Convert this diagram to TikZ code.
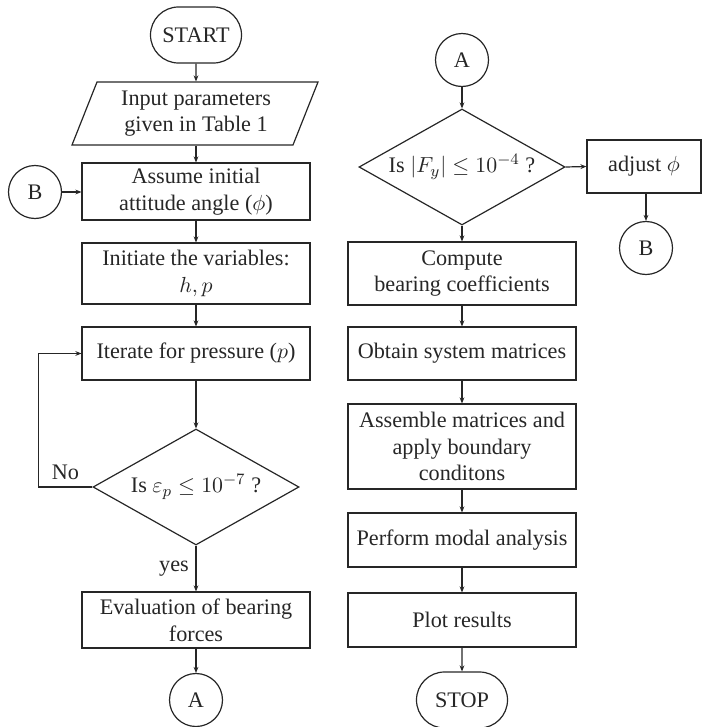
\documentclass[tikz,border=0pt]{standalone}
\usepackage{fontspec}
\setmainfont{Liberation Serif}
\usetikzlibrary{shapes.geometric,shapes.misc,arrows.meta}
\newcommand\fsz{\fontsize{11.1bp}{13.3bp}\selectfont}
\begin{document}
\begin{tikzpicture}[x=0.5bp,y=-0.5bp,
  line width=0.6bp, color=black!85,
  every node/.style={font=\fsz},
  box/.style={draw, rectangle, minimum width=114bp, inner sep=1bp, align=center},
  conn/.style={draw, circle, minimum size=26.5bp, inner sep=0pt},
  term/.style={draw, rounded rectangle, minimum width=45.5bp, minimum height=28bp, inner sep=0pt},
  dec/.style={draw, diamond, aspect=1.77, minimum width=103bp, minimum height=58bp, inner sep=0pt},
  arr/.style={-{Stealth[length=3bp,width=2.4bp]}}]
\useasboundingbox (0,0) rectangle (702,727);
% left column
\node[term] (start) at (196,35) {START};
\node[inner sep=0pt, minimum width=110bp, minimum height=31.5bp, align=center] (inp) at (196,113.5) {Input parameters\\given in Table 1};
\draw (97,82) -- (318,82) -- (293,145) -- (72,145) -- cycle;
\node[box, minimum height=28.5bp] (assume) at (196,191.5) {Assume initial\\attitude angle ($\phi$)};
\node[conn] (b1) at (35,192) {B};
\node[box, minimum height=30.5bp] (init) at (196,273.5) {Initiate the variables:\\$h,p$};
\node[box, minimum height=26.5bp] (iter) at (196,353.5) {Iterate for pressure ($p$)};
\node[dec] (d1) at (196,487) {Is $\varepsilon_p\le 10^{-7}$ ?};
\node[box, minimum height=28bp] (eval) at (196,620) {Evaluation of bearing\\forces};
\node[conn] (a1) at (196,700) {A};
% right column
\node[conn] (a2) at (462,60) {A};
\node[dec] (d2) at (462,167) {Is $|F_y|\le 10^{-4}$ ?};
\node[box, minimum width=57bp, minimum height=26.5bp] (adj) at (644,166.5) {adjust $\phi$};
\node[conn] (b2) at (646,248) {B};
\node[box, minimum height=31.5bp] (comp) at (462,273.5) {Compute\\bearing coefficients};
\node[box, minimum height=26.5bp] (obt) at (462,353.5) {Obtain system matrices};
\node[box, minimum height=42.5bp] (asm) at (462,446.5) {Assemble matrices and\\apply boundary\\conditons};
\node[box, minimum height=27bp] (perf) at (462,540) {Perform modal analysis};
\node[box, minimum height=27bp] (plot) at (462,620) {Plot results};
\node[term] (stop) at (462,700) {STOP};
% connectors
\draw[arr] (start) -- (inp);
\draw[arr] (inp) -- (assume);
\draw[arr] (b1.east) -- (b1.east -| assume.west);
\draw[arr] (assume) -- (init);
\draw[arr] (init) -- (iter);
\draw[arr] (iter) -- (d1);
\draw[arr] (d1.west) -- node[above]{No} ++(-54,0) |- (iter.west);
\draw[arr] (d1.south) -- node[left]{yes} (eval.north);
\draw[arr] (eval) -- (a1);
\draw[arr] (a2) -- (d2);
\draw[arr] (d2.east) -- (adj.west);
\draw[arr] (adj.south -| b2) -- (b2);
\draw[arr] (d2) -- (comp);
\draw[arr] (comp) -- (obt);
\draw[arr] (obt) -- (asm);
\draw[arr] (asm) -- (perf);
\draw[arr] (perf) -- (plot);
\draw[arr] (plot) -- (stop);
\end{tikzpicture}
\end{document}
